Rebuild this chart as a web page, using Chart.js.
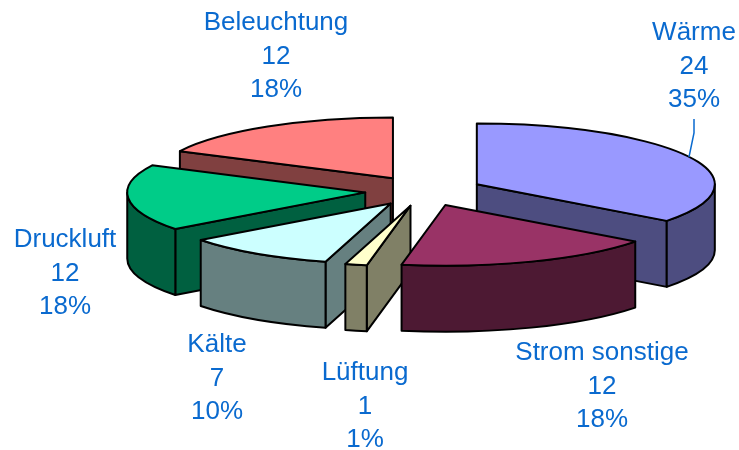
<!DOCTYPE html>
<html>
<head>
<meta charset="utf-8">
<style>
  html, body { margin: 0; padding: 0; background: #fff; }
  canvas { display: block; }
</style>
<script src="https://cdn.jsdelivr.net/npm/chart.js@4/dist/chart.umd.min.js"></script>
</head>
<body>
<canvas id="myChart" width="739" height="450"></canvas>
<script>
var categories = ['Wärme', 'Strom sonstige', 'Lüftung', 'Kälte', 'Druckluft', 'Beleuchtung'];
var values = [24, 12, 1, 7, 12, 12];
var percents = ['35%', '18%', '1%', '10%', '18%', '18%'];

var topColors = ['#9999FF', '#993366', '#FFFFCC', '#CCFFFF', '#00CC88', '#FF8080'];
var wallColors = ['#4D4D80', '#4D1933', '#808066', '#668080', '#006040', '#804040'];

// back to front, so the walls of a front slice cover what is behind them
var drawOrder = [5, 0, 4, 3, 2, 1];

// centre of the first text line of each label
var labelX = [694, 602, 365, 217, 65, 276];
var labelY = [33, 353, 373, 345, 240, 23];

var squash = 0.255;
var depth = 66;
var explode = 59;
var lineGap = 33.5;

function sliceGeom(el) {
    var p = el.getProps(['x', 'y', 'startAngle', 'endAngle', 'outerRadius'], true);
    var mid = (p.startAngle + p.endAngle) / 2;
    p.cx = p.x + Math.cos(mid) * explode;
    p.cy = p.y + Math.sin(mid) * explode * squash;
    p.ry = p.outerRadius * squash;
    return p;
}

function pointAt(g, a) {
    return [g.cx + Math.cos(a) * g.outerRadius, g.cy + Math.sin(a) * g.ry];
}

function shape(ctx, fill, build) {
    ctx.beginPath();
    build();
    ctx.closePath();
    ctx.fillStyle = fill;
    ctx.fill();
    ctx.stroke();
}

function radialFace(ctx, g, a, fill) {
    var e = pointAt(g, a);
    shape(ctx, fill, function () {
        ctx.moveTo(g.cx, g.cy);
        ctx.lineTo(e[0], e[1]);
        ctx.lineTo(e[0], e[1] + depth);
        ctx.lineTo(g.cx, g.cy + depth);
    });
}

function drawWalls(ctx, g, fill) {
    if (Math.cos(g.startAngle) < 0) radialFace(ctx, g, g.startAngle, fill);
    if (Math.cos(g.endAngle) > 0) radialFace(ctx, g, g.endAngle, fill);

    // outer rim, only the part that turns towards the viewer
    var from = Math.max(g.startAngle, 0);
    var to = Math.min(g.endAngle, Math.PI);
    if (to > from) {
        shape(ctx, fill, function () {
            ctx.ellipse(g.cx, g.cy, g.outerRadius, g.ry, 0, from, to);
            ctx.ellipse(g.cx, g.cy + depth, g.outerRadius, g.ry, 0, to, from, true);
        });
    }
}

function drawTop(ctx, el, g) {
    ctx.save();
    ctx.translate(g.cx, g.cy);
    ctx.scale(1, squash);
    ctx.translate(-g.x, -g.y);
    el.draw(ctx);
    ctx.restore();

    ctx.beginPath();
    ctx.moveTo(g.cx, g.cy);
    ctx.ellipse(g.cx, g.cy, g.outerRadius, g.ry, 0, g.startAngle, g.endAngle);
    ctx.closePath();
    ctx.stroke();
}

var pie3d = {
    id: 'pie3d',
    beforeDatasetDraw: function (chart, args) {
        var ctx = chart.ctx;
        var arcs = args.meta.data;
        ctx.save();
        ctx.strokeStyle = '#000';
        ctx.lineWidth = 2;
        ctx.lineJoin = 'round';
        drawOrder.forEach(function (i) {
            var g = sliceGeom(arcs[i]);
            drawWalls(ctx, g, wallColors[i]);
            drawTop(ctx, arcs[i], g);
        });
        ctx.restore();
        return false;
    },
    afterDraw: function (chart) {
        var ctx = chart.ctx;
        ctx.save();
        ctx.fillStyle = '#0A6ACF';
        ctx.font = '26px "Liberation Sans", Arial, sans-serif';
        ctx.textAlign = 'center';
        ctx.textBaseline = 'middle';
        categories.forEach(function (name, i) {
            ctx.fillText(name, labelX[i], labelY[i]);
            ctx.fillText(String(values[i]), labelX[i], labelY[i] + lineGap);
            ctx.fillText(percents[i], labelX[i], labelY[i] + lineGap * 2);
        });
        // leader line of the Wärme label
        ctx.strokeStyle = '#0A6ACF';
        ctx.lineWidth = 1.5;
        ctx.beginPath();
        ctx.moveTo(694, 119);
        ctx.lineTo(694, 133);
        ctx.lineTo(689, 157);
        ctx.stroke();
        ctx.restore();
    }
};

var myChart = new Chart(document.getElementById('myChart'), {
    type: 'pie',
    data: {
        labels: categories,
        datasets: [{
            data: values,
            backgroundColor: topColors,
            borderWidth: 0,
            clip: false
        }]
    },
    options: {
        responsive: false,
        animation: false,
        radius: 238,
        layout: { padding: { left: 109, bottom: 68 } },
        plugins: { legend: { display: false }, tooltip: { enabled: false } }
    },
    plugins: [pie3d]
});
</script>
</body>
</html>
